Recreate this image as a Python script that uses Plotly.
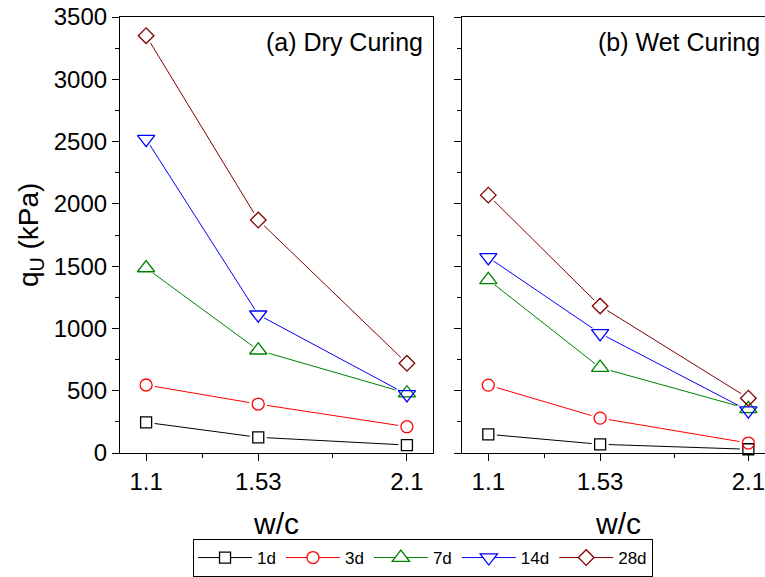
import plotly.graph_objects as go

wc = [1.1, 1.53, 2.1]
series_names = ["1d", "3d", "7d", "14d", "28d"]
dry = {
    "1d": [246, 126, 64],
    "3d": [546, 393, 211],
    "7d": [1485, 825, 480],
    "14d": [2520, 1110, 470],
    "28d": [3350, 1870, 720],
}
wet = {
    "1d": [150, 70, 30],
    "3d": [545, 280, 80],
    "7d": [1390, 685, 355],
    "14d": [1570, 960, 340],
    "28d": [2070, 1180, 440],
}
colors = {"1d": "#000000", "3d": "#FF0000", "7d": "#008000", "14d": "#0000FF", "28d": "#800000"}
symbols = {"1d": "square", "3d": "circle", "7d": "triangle-up", "14d": "triangle-down", "28d": "diamond"}
sizes = {"1d": 11, "3d": 12, "7d": 15, "14d": 15, "28d": 12}
x_ticks = [1.1, 1.53, 2.1]
x_minor = [1.315, 1.815]

FONT = "Liberation Sans, Arial, sans-serif"
fig = go.Figure()

panels = [(0, dry, "x", "y"), (1, wet, "x2", "y2")]
# lines (with legend entries)
for panel, data, xa, ya in panels:
    for name in series_names:
        c = colors[name]
        fig.add_trace(go.Scatter(
            x=wc, y=data[name], xaxis=xa, yaxis=ya, mode="lines+markers",
            name=name, legendgroup=name, showlegend=(panel == 0),
            line=dict(color=c, width=1),
            marker=dict(symbol=symbols[name], size=sizes[name], color="white",
                        line=dict(color=c, width=1.3)),
            cliponaxis=False,
        ))
# white halos to create gaps in lines around markers
for panel, data, xa, ya in panels:
    for name in series_names:
        fig.add_trace(go.Scatter(
            x=wc, y=data[name], xaxis=xa, yaxis=ya, mode="markers",
            showlegend=False, hoverinfo="skip",
            marker=dict(symbol=symbols[name], size=sizes[name] + 6, color="white",
                        line=dict(width=0)),
            cliponaxis=False,
        ))
# coloured open markers
for panel, data, xa, ya in panels:
    for name in series_names:
        c = colors[name]
        fig.add_trace(go.Scatter(
            x=wc, y=data[name], xaxis=xa, yaxis=ya, mode="markers",
            showlegend=False, legendgroup=name,
            marker=dict(symbol=symbols[name] + "-open", size=sizes[name], color=c,
                        line=dict(color=c, width=1.3)),
            cliponaxis=False,
        ))

yd = [0.2149, 0.9705]
TF = dict(family=FONT, size=24, color="black")
common_x = dict(tickmode="array", tickvals=x_ticks, ticktext=["1.1", "1.53", "2.1"],
                ticks="outside", ticklen=7, tickwidth=1, tickcolor="black",
                showline=True, linecolor="black", linewidth=1.3, mirror=True,
                showgrid=False, zeroline=False, tickfont=TF, ticklabeloverflow="allow",
                minor=dict(tickmode="array", tickvals=x_minor, ticks="outside",
                           ticklen=4, tickwidth=1, tickcolor="black"))
common_y = dict(range=[0, 3500], tickmode="linear", tick0=0, dtick=500,
                ticks="outside", ticklen=7, tickwidth=1, tickcolor="black",
                showline=True, linecolor="black", linewidth=1.3,
                showgrid=False, zeroline=False, tickfont=TF,
                minor=dict(dtick=250, ticks="outside", ticklen=4, tickwidth=1, tickcolor="black"))

fig.update_layout(
    width=765, height=577,
    margin=dict(l=0, r=0, t=0, b=0, autoexpand=False),
    paper_bgcolor="white", plot_bgcolor="white",
    font=dict(family=FONT, color="black"),
    xaxis=dict(domain=[0.1569, 0.566], range=[1.0, 2.2], anchor="y", **common_x),
    yaxis=dict(domain=yd, anchor="x", mirror=True, showticklabels=True, **common_y),
    xaxis2=dict(domain=[0.6043, 1.0], range=[1.0, 2.164], anchor="y2", **common_x),
    yaxis2=dict(domain=yd, anchor="x2", mirror=False, showticklabels=False, **common_y),
    legend=dict(orientation="h", x=0.553, xanchor="center", yref="container", y=0.0,
                yanchor="bottom", bordercolor="black", borderwidth=1,
                font=dict(family=FONT, size=17, color="black"),
                itemwidth=54, tracegroupgap=0),
    showlegend=True,
    annotations=[
        dict(text="(a) Dry Curing", xref="paper", yref="paper", x=425 / 765, y=(577 - 42) / 577,
             xanchor="right", yanchor="middle", showarrow=False,
             font=dict(family=FONT, size=25, color="black")),
        dict(text="(b) Wet Curing", xref="paper", yref="paper", x=762 / 765, y=(577 - 42) / 577,
             xanchor="right", yanchor="middle", showarrow=False,
             font=dict(family=FONT, size=25, color="black")),
        dict(text="w/c", xref="paper", yref="paper", x=276 / 765, y=(577 - 523) / 577,
             xanchor="center", yanchor="middle", showarrow=False,
             font=dict(family=FONT, size=30, color="black")),
        dict(text="w/c", xref="paper", yref="paper", x=618 / 765, y=(577 - 523) / 577,
             xanchor="center", yanchor="middle", showarrow=False,
             font=dict(family=FONT, size=30, color="black")),
        dict(text="q<sub>U</sub> (kPa)", xref="paper", yref="paper", x=30 / 765, y=(577 - 235) / 577,
             xanchor="center", yanchor="middle", showarrow=False, textangle=-90,
             font=dict(family=FONT, size=28, color="black")),
    ],
)

fig.write_html("out.html")
